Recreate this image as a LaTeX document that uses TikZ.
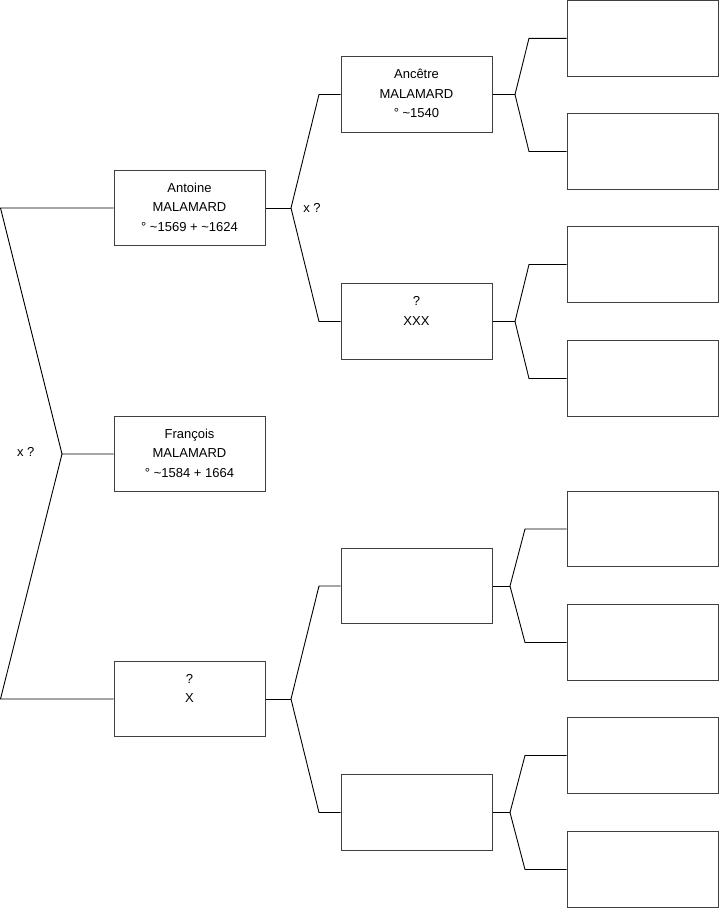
\documentclass[tikz,border=0pt]{standalone}
\usepackage{fontspec}
\setmainfont{Liberation Sans}

\begin{document}
\begin{tikzpicture}[x=1pt,y=-1pt,
	person/.style={draw=black!75, line width=1pt, minimum width=151pt, minimum height=75.5pt, inner sep=0pt},
	names/.style={font=\fontsize{13}{19.5}\selectfont, align=center, inner sep=0pt, anchor=north},
	mark label/.style={font=\fontsize{13}{15}\selectfont, inner sep=0pt},
	link/.style={draw=black, line width=0.9pt}]
					\useasboundingbox (0,0) rectangle (719,908);
					
					% generation 1
					\node[person] (antoine) at (189.5,208) {};
					\node[person] (francois) at (189.5,454) {};
					\node[person] (xbox) at (189.5,699) {};
					
					% generation 2
					\node[person] (ancetre) at (416.5,94.5) {};
					\node[person] (xxx) at (416.5,321.5) {};
					\node[person] (xmother) at (416.5,586) {};
					\node[person] (xfather) at (416.5,812.5) {};
					
					% generation 3
					\node[person] (g1) at (642.5,38.3) {};
					\node[person] (g2) at (642.5,151.5) {};
					\node[person] (g3) at (642.5,264.5) {};
					\node[person] (g4) at (642.5,378.5) {};
					\node[person] (g5) at (642.5,529) {};
					\node[person] (g6) at (642.5,642.5) {};
					\node[person] (g7) at (642.5,755.5) {};
					\node[person] (g8) at (642.5,869.5) {};
					
					% texts
					\node[names] (antoine-t) at ([yshift=-13pt]antoine.north) {Antoine\\MALAMARD\\° \textasciitilde1569 + \textasciitilde1624};
					\node[names] (francois-t) at ([yshift=-13pt]francois.north) {François\\MALAMARD\\° \textasciitilde1584 + 1664};
					\node[names] (xbox-t) at ([yshift=-13pt]xbox.north) {?\\X};
					\node[names] (ancetre-t) at ([yshift=-13pt]ancetre.north) {Ancêtre\\MALAMARD\\° \textasciitilde1540};
					\node[names] (xxx-t) at ([yshift=-13pt]xxx.north) {?\\XXX};
					
					\node[mark label] (xq1) at (25.7,452.3) {x ?};
					\node[mark label] (xq2) at (312,207.7) {x ?};
					
					% brackets
					\coordinate (j0) at (62,454);
					\coordinate (j0a) at (0.5,208);
					\coordinate (j0b) at (0.5,699);
					\draw[link] (antoine.west) -- (j0a) -- (j0) -- (francois.west);
					\draw[link] (j0) -- (j0b) -- (xbox.west);
					
					\coordinate (j1) at (291,208);
					\draw[link] (antoine.east) -- (j1);
					\draw[link] (ancetre.west) -- (319,94.5) -- (j1) -- (319,321.5) -- (xxx.west);
					
					\coordinate (j2) at (291,699);
					\draw[link] (xbox.east) -- (j2);
					\draw[link] (xmother.west) -- (319,586) -- (j2) -- (319,812.5) -- (xfather.west);
					
					\coordinate (j3) at (515,94.5);
					\draw[link] (ancetre.east) -- (j3);
					\draw[link] (g1.west) -- (529,38.3) -- (j3) -- (529,151.5) -- (g2.west);
					
					\coordinate (j4) at (515,321.5);
					\draw[link] (xxx.east) -- (j4);
					\draw[link] (g3.west) -- (529,264.5) -- (j4) -- (529,378.5) -- (g4.west);
					
					\coordinate (j5) at (510,586);
					\draw[link] (xmother.east) -- (j5);
					\draw[link] (g5.west) -- (525,529) -- (j5) -- (525,642.5) -- (g6.west);
					
					\coordinate (j6) at (510,812.5);
					\draw[link] (xfather.east) -- (j6);
					\draw[link] (g7.west) -- (525,755.5) -- (j6) -- (525,869.5) -- (g8.west);
\end{tikzpicture}
\end{document}
